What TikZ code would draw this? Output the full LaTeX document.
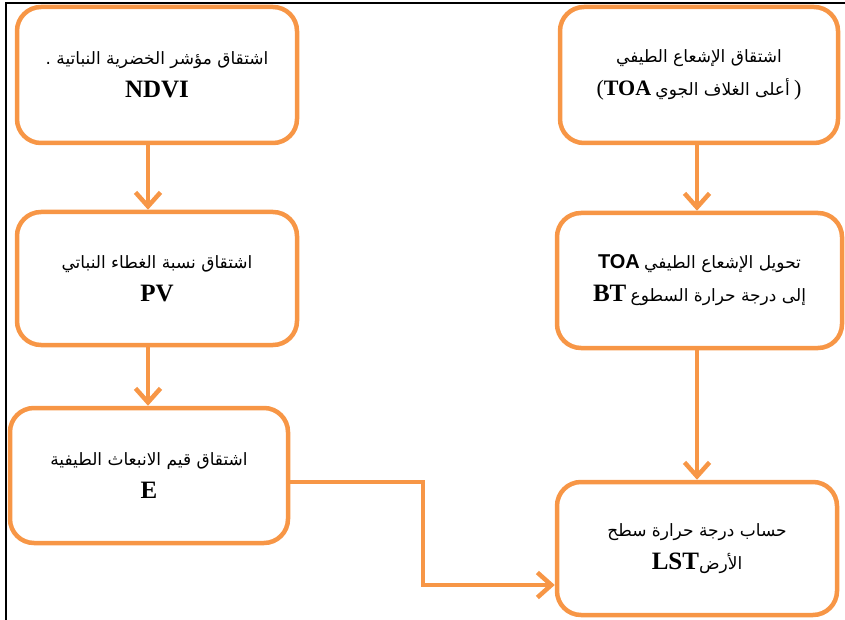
\documentclass[tikz,border=0pt]{standalone}
\usepackage{fontspec}
\setmainfont{Liberation Serif}
\newfontfamily\arabicfont[Script=Arabic]{DejaVu Sans}
\newfontfamily\latinsans{Liberation Sans}
\TeXXeTstate=1
\usetikzlibrary{arrows.meta}
\definecolor{accent}{HTML}{F79646}
\newcommand\artxt[1]{{\arabicfont\beginR #1\endR}}
\newcommand\lat[1]{{\fontsize{25}{33}\selectfont\bfseries #1}}
\tikzset{
  flowbox/.style={draw=accent, line width=4.5pt, rounded corners=24pt, align=center,
    inner sep=0pt, font=\fontsize{17}{33}\selectfont},
  flowarrow/.style={draw=accent, line width=4.5pt, -{Straight Barb[length=14pt,width=25pt]}},
}
\begin{document}
\begin{tikzpicture}[x=1pt,y=-1pt]
\useasboundingbox (0,0) rectangle (845,620);
\draw[black, line width=1.2pt] (6,620) -- (6,3) -- (845,3);

\node[flowbox, minimum width=280pt, minimum height=136pt] (L1) at (157,75)
  {\artxt{اشتقاق مؤشر الخضرية النباتية .}\\ \lat{NDVI}};
\node[flowbox, minimum width=280pt, minimum height=133pt] (L2) at (157,278.5)
  {\artxt{اشتقاق نسبة الغطاء النباتي}\\ \lat{PV}};
\node[flowbox, minimum width=278pt, minimum height=135pt] (L3) at (149,475.5)
  {\artxt{اشتقاق قيم الانبعاث الطيفية}\\ \lat{E}};
\node[flowbox, minimum width=278pt, minimum height=136pt] (R1) at (699,75)
  {\artxt{اشتقاق الإشعاع الطيفي}\\ {\fontsize{22}{33}\selectfont(\textbf{TOA}} \artxt{أعلى الغلاف الجوي} {\fontsize{22}{33}\selectfont)}};
\node[flowbox, minimum width=285pt, minimum height=135pt] (R2) at (699.5,280.5)
  {{\latinsans\fontsize{20}{33}\selectfont\bfseries TOA} \artxt{تحويل الإشعاع الطيفي}\\ \lat{BT} \artxt{إلى درجة حرارة السطوع}};
\node[flowbox, minimum width=280pt, minimum height=133pt] (R3) at (697,548.5)
  {\artxt{حساب درجة حرارة سطح}\\ \lat{LST}\artxt{الأرض}};

\coordinate (xL) at (148,0);
\coordinate (xR) at (697,0);
\coordinate (bend) at (423,0);

\draw[flowarrow] (L1.south -| xL) -- (L2.north -| xL);
\draw[flowarrow] (L2.south -| xL) -- (L3.north -| xL);
\draw[flowarrow] (R1.south -| xR) -- (R2.north -| xR);
\draw[flowarrow] (R2.south -| xR) -- (R3.north -| xR);
\draw[flowarrow] ([yshift=-6.5pt]L3.east) -| ([yshift=-36.5pt]R3.west -| bend) -- ([yshift=-36.5pt]R3.west);
\end{tikzpicture}
\end{document}
